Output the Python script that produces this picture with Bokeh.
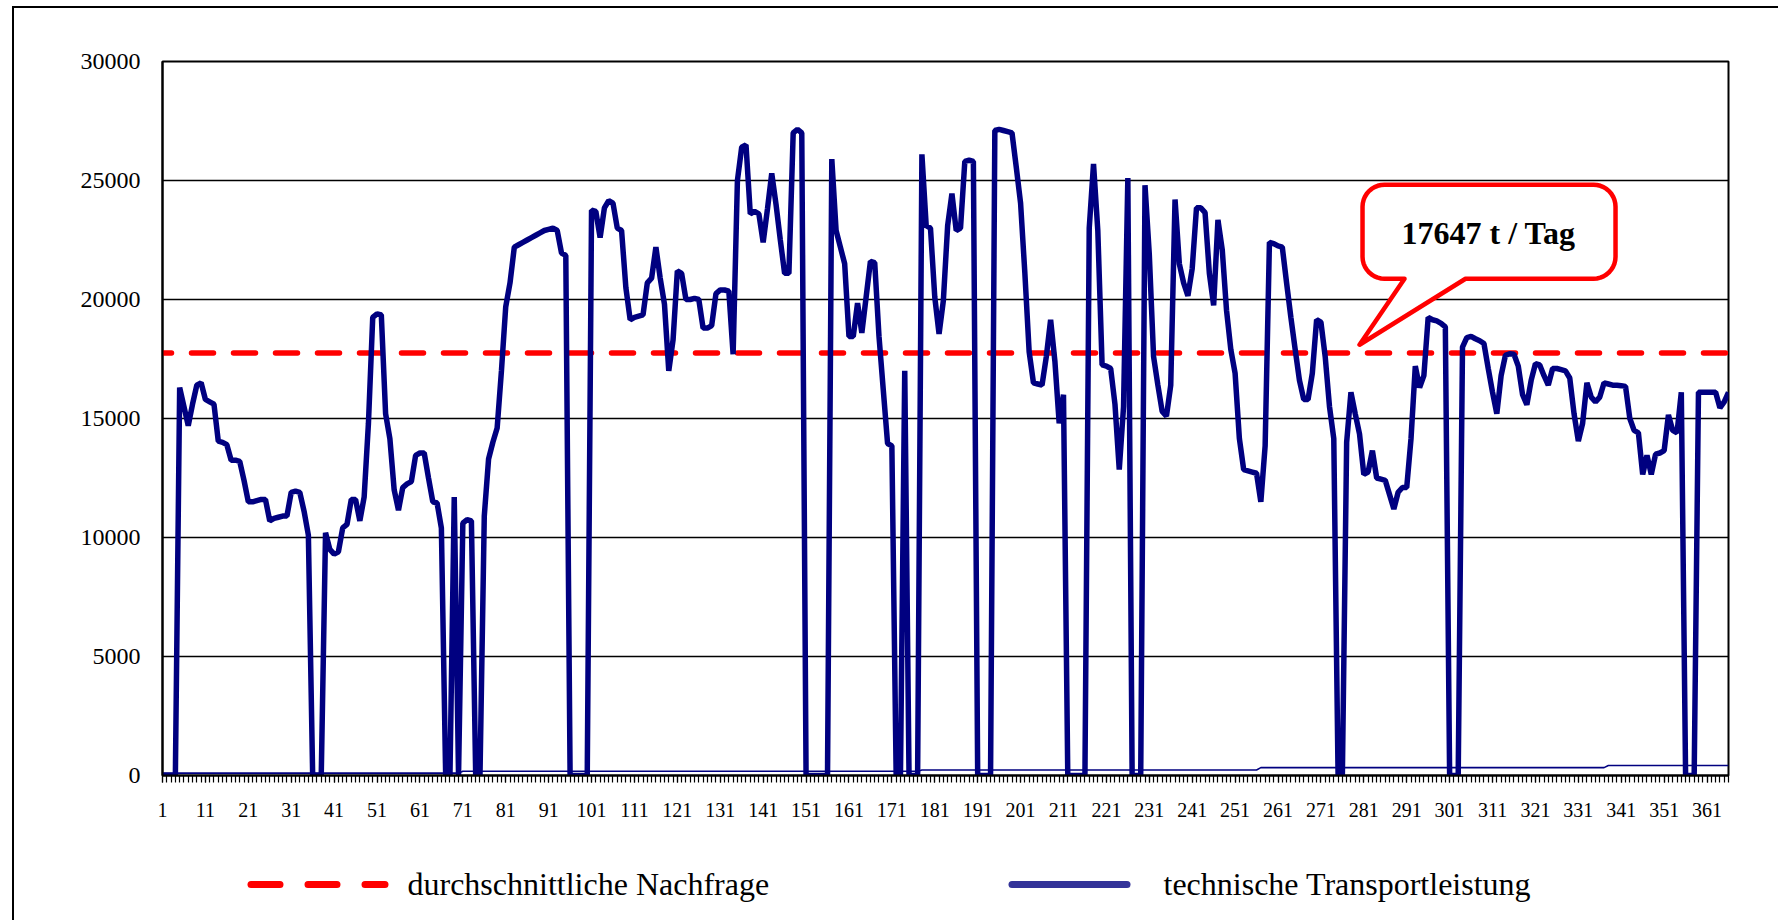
from bokeh.plotting import figure
from bokeh.models import (FixedTicker, Span, Label, Range1d)
from bokeh.layouts import column
from bokeh.core.properties import value
from bokeh.embed import file_html
from bokeh.resources import INLINE
import math

# ---------------- data ----------------
DAYS = list(range(1, 367))

TRANSPORT = [
    0, 0, 0, 0, 16300, 15500, 14700, 15600, 16400, 16500,
    15800, 15700, 15600, 14050, 14000, 13900, 13250, 13250, 13200, 12400,
    11500, 11500, 11550, 11600, 11600, 10700, 10800, 10850, 10900, 10900,
    11900, 11950, 11900, 11100, 10100, 0, 0, 0, 10200, 9500,
    9300, 9400, 10400, 10550, 11600, 11600, 10700, 11700, 14800, 19250,
    19400, 19350, 15200, 14150, 12000, 11150, 12100, 12250, 12350, 13450,
    13550, 13550, 12500, 11500, 11450, 10400, 0, 0, 11700, 0,
    10600, 10750, 10700, 0, 0, 10900, 13300, 14000, 14600, 17000,
    19700, 20700, 22200, 22300, 22400, 22500, 22600, 22700, 22800, 22900,
    22950, 23000, 22900, 21950, 21850, 0, 0, 0, 0, 0,
    23750, 23700, 22600, 23850, 24150, 24050, 23000, 22900, 20500, 19150,
    19250, 19300, 19350, 20700, 20900, 22200, 20900, 19800, 17000, 18300,
    21200, 21100, 20000, 20000, 20050, 20000, 18800, 18800, 18900, 20250,
    20400, 20400, 20350, 17700, 25000, 26400, 26500, 23600, 23700, 23600,
    22400, 23800, 25300, 24000, 22500, 21100, 21100, 27000, 27150, 27000,
    0, 0, 0, 0, 0, 0, 25900, 22900, 22200, 21500,
    18450, 18450, 19850, 18600, 20100, 21600, 21550, 18450, 16200, 13950,
    13850, 0, 0, 17000, 0, 0, 0, 26100, 23100, 23000,
    20100, 18550, 19950, 23100, 24450, 22900, 23000, 25800, 25850, 25800,
    0, 0, 0, 0, 27100, 27150, 27100, 27050, 27000, 25550,
    24050, 21100, 17800, 16500, 16450, 16400, 17600, 19150, 17400, 14800,
    16000, 0, 0, 0, 0, 0, 23000, 25700, 22900, 17250,
    17200, 17100, 15600, 12850, 15500, 25100, 0, 0, 0, 24800,
    21900, 17600, 16400, 15300, 15100, 16400, 24200, 21500, 20700, 20150,
    21300, 23850, 23850, 23650, 21100, 19750, 23350, 22100, 19550, 17900,
    16900, 14150, 12850, 12800, 12750, 12700, 11500, 13850, 22400, 22350,
    22250, 22200, 20700, 19250, 17900, 16600, 15800, 15800, 16900, 19150,
    19050, 17600, 15500, 14150, 0, 0, 14000, 16100, 15200, 14350,
    12650, 12750, 13650, 12500, 12450, 12400, 11800, 11200, 11900, 12100,
    12100, 14150, 17200, 16300, 16800, 19250, 19150, 19100, 19000, 18850,
    0, 0, 0, 18000, 18400, 18450, 18350, 18270, 18150, 17100,
    16100, 15200, 16800, 17650, 17720, 17700, 17200, 16000, 15580, 16600,
    17300, 17250, 16800, 16400, 17100, 17100, 17050, 17000, 16700, 15200,
    14050, 14800, 16500, 15900, 15700, 15900, 16500, 16450, 16400, 16400,
    16380, 16350, 15000, 14500, 14400, 12650, 13450, 12650, 13500, 13550,
    13650, 15150, 14500, 14400, 16100, 0, 0, 0, 16100, 16100,
    16100, 16100, 16100, 15450, 15700, 16100,
]
assert len(TRANSPORT) == 366

# thin line near the bottom: step levels and the day each level starts
BASE_LEVELS = [100, 180, 230, 330, 420]
BASE_START_DAYS = [1, 71, 178, 257, 338]

DEMAND = 17750
CALLOUT_TEXT = "17647 t / Tag"
CALLOUT_TIP = (280, 18100)

X_TICKS = list(range(1, 362, 10))
Y_TICKS = [0, 5000, 10000, 15000, 20000, 25000, 30000]
LEGEND_LABELS = ["durchschnittliche Nachfrage", "technische Transportleistung"]

# build the thin step series from its levels
BASE = []
for d in DAYS:
    lvl = BASE_LEVELS[0]
    for s, v in zip(BASE_START_DAYS, BASE_LEVELS):
        if d >= s:
            lvl = v
    BASE.append(lvl)

# ---------------- main figure ----------------
W, H = 1778, 830
FL, FT = 162, 61
FR = W - 1728
FB = H - 775
FRAME_W = W - FL - FR
FRAME_H = H - FT - FB
FONT = "Liberation Serif"

p = figure(width=W, height=H, output_backend="svg", toolbar_location=None,
           x_range=Range1d(1, 366), y_range=Range1d(0, 30000),
           min_border_left=FL, min_border_right=FR,
           min_border_top=FT, min_border_bottom=FB)
p.background_fill_color = "white"
p.border_fill_color = None
p.outline_line_color = "black"
p.outline_line_width = 2
# outer chart frame: left and top edges drawn as CSS background lines
p.styles = {
    "background-color": "white",
    "background-image": "linear-gradient(#000,#000), linear-gradient(#000,#000)",
    "background-size": "2px 100%, 100% 2px",
    "background-position": "12px 6px, 12px 6px",
    "background-repeat": "no-repeat",
}

# axes
p.xaxis.ticker = FixedTicker(ticks=X_TICKS, minor_ticks=DAYS)
p.xaxis.axis_line_color = "black"
p.xaxis.axis_line_width = 2
p.xaxis.major_tick_in = 0
p.xaxis.major_tick_out = 7
p.xaxis.minor_tick_in = 0
p.xaxis.minor_tick_out = 7
p.xaxis.major_tick_line_color = "black"
p.xaxis.minor_tick_line_color = "black"
p.xaxis.major_tick_line_width = 1.2
p.xaxis.minor_tick_line_width = 1.2
p.xaxis.major_label_text_font = FONT
p.xaxis.major_label_text_font_size = "20px"
p.xaxis.major_label_text_color = "black"
p.xaxis.major_label_standoff = 20

p.yaxis.ticker = FixedTicker(ticks=Y_TICKS)
p.yaxis.axis_line_color = "black"
p.yaxis.axis_line_width = 2
p.yaxis.major_tick_in = 0
p.yaxis.major_tick_out = 0
p.yaxis.minor_tick_in = 0
p.yaxis.minor_tick_out = 0
p.yaxis.major_label_text_font = FONT
p.yaxis.major_label_text_font_size = "24px"
p.yaxis.major_label_text_color = "black"
p.yaxis.major_label_standoff = 22

p.xgrid.visible = False
p.ygrid.ticker = FixedTicker(ticks=Y_TICKS)
p.ygrid.grid_line_color = "black"
p.ygrid.grid_line_width = 1.3

# demand line (under the data)
demand = Span(location=DEMAND, dimension="width", line_color="#FF0000",
              line_width=5.5, line_dash="22 20", line_dash_offset=13,
              line_cap="round", level="underlay")
p.add_layout(demand)

# data
p.line(DAYS, BASE, line_color="#000080", line_width=1.6)
p.line(DAYS, TRANSPORT, line_color="#000080", line_width=5.5, line_join="bevel")

# callout bubble (pixel offsets from the tip converted to data units)
dpp = (366 - 1) / FRAME_W        # days per pixel
vpp = 30000 / FRAME_H            # value per pixel
L, R, T, B, RAD, PL, PR = 3, 256, -160, -66, 22, 45, 106
pts = [(PL, B), (0, 0), (PR, B)]
def arc(cx, cy, a0, a1, n=10):
    out = []
    for i in range(n + 1):
        a = math.radians(a0 + (a1 - a0) * i / n)
        out.append((cx + RAD * math.cos(a), cy + RAD * math.sin(a)))
    return out
pts += arc(R - RAD, B - RAD, 90, 0)
pts += arc(R - RAD, T + RAD, 0, -90)
pts += arc(L + RAD, T + RAD, -90, -180)
pts += arc(L + RAD, B - RAD, 180, 90)
pts.append((PL, B))
tx, ty = CALLOUT_TIP
bx = [tx + dx * dpp for dx, dy in pts]
by = [ty - dy * vpp for dx, dy in pts]
p.patch(bx, by, fill_color="white", line_color="#FF0000", line_width=4.5,
        line_join="round")
p.add_layout(Label(x=tx + 129 * dpp, y=ty + 112 * vpp, text=CALLOUT_TEXT,
                   text_align="center", text_baseline="middle",
                   text_font=FONT, text_font_size="32px",
                   text_font_style="bold", text_color="black"))

# ---------------- legend strip (its own figure, page-pixel coordinates) ----------------
# the column aligns this figure's frame with the main frame, so its x range
# spans the same page pixels as the main frame
LH = 90
lg = figure(width=W, height=LH, output_backend="svg", toolbar_location=None,
            x_range=Range1d(FL, W - FR), y_range=Range1d(LH, 0),
            x_axis_type=None, y_axis_type=None,
            min_border_left=FL, min_border_right=FR, min_border_top=0, min_border_bottom=0)
lg.grid.visible = False
lg.outline_line_color = None
lg.background_fill_color = None
lg.border_fill_color = None
lg.styles = {
    "background-color": "white",
    "background-image": "linear-gradient(#000,#000)",
    "background-size": "2px 100%",
    "background-position": "12px 0px",
    "background-repeat": "no-repeat",
}
LEG_Y = 54
lg.line([250.5, 384.5], [LEG_Y, LEG_Y], line_color="#FF0000", line_width=7,
        line_dash="29 28", line_cap="round")
lg.line([1011.5, 1126.5], [LEG_Y, LEG_Y], line_color="#333399", line_width=7,
        line_cap="round")
lg.text(x=[407, 1163], y=[LEG_Y - 1, LEG_Y - 1], text=LEGEND_LABELS,
        text_font=value(FONT), text_font_size="32px", text_color="black",
        text_align="left", text_baseline="middle")

layout = column(p, lg, spacing=0)
open("out.html", "w").write(file_html(layout, INLINE))
